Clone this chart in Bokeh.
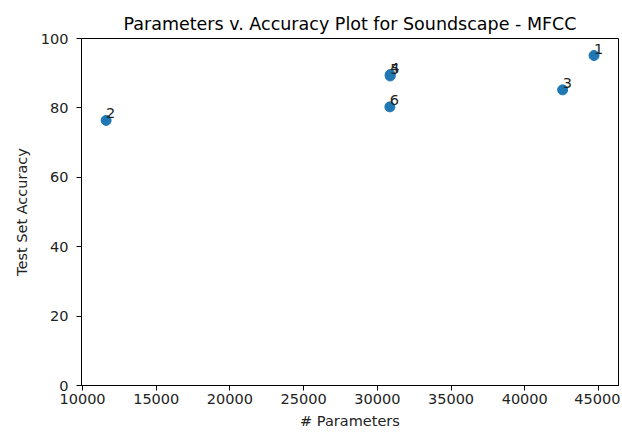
from bokeh.plotting import figure
from bokeh.models import ColumnDataSource, FixedTicker, Range1d
from bokeh.embed import file_html
from bokeh.resources import INLINE
from bokeh.core.properties import value

labels = ["1", "2", "3", "4", "5", "6"]
params = [44700, 11600, 42570, 30870, 30870, 30850]
accuracy = [95.1, 76.4, 85.2, 89.6, 89.2, 80.3]

x_ticks = [10000, 15000, 20000, 25000, 30000, 35000, 40000, 45000]
y_ticks = [0, 20, 40, 60, 80, 100]

src = ColumnDataSource(dict(x=params, y=accuracy, label=labels))

FONT = "DejaVu Sans"

p = figure(
    frame_width=537, frame_height=347,
    min_border_left=81, min_border_right=2, min_border_top=38, min_border_bottom=48,
    output_backend="svg", toolbar_location=None,
    x_range=Range1d(9930, 46360), y_range=Range1d(0, 100),
    title="Parameters v. Accuracy Plot for Soundscape - MFCC",
)
p.title.align = "center"
p.title.text_font = FONT
p.title.text_font_size = "17.5px"
p.title.text_font_style = "normal"
p.title.text_color = "black"

p.outline_line_color = "black"
p.outline_line_width = 1
p.outline_line_alpha = 1
p.xgrid.visible = False
p.ygrid.visible = False

for ax, ticks in ((p.xaxis, x_ticks), (p.yaxis, y_ticks)):
    ax.ticker = FixedTicker(ticks=ticks)
    ax.minor_tick_line_color = None
    ax.major_tick_in = 0
    ax.major_tick_out = 5
    ax.major_tick_line_color = "black"
    ax.axis_line_color = "black"
    ax.major_label_text_font = FONT
    ax.major_label_text_font_size = "14.5px"
    ax.major_label_text_color = "#222222"
    ax.axis_label_text_font = FONT
    ax.axis_label_text_font_size = "14.5px"
    ax.axis_label_text_font_style = "normal"
    ax.axis_label_text_color = "#222222"

p.xaxis.major_label_standoff = 3
p.xaxis.axis_label_standoff = 6
p.yaxis.major_label_standoff = 8
p.yaxis.axis_label_standoff = 8

p.xaxis.axis_label = "# Parameters"
p.yaxis.axis_label = "Test Set Accuracy"

p.scatter("x", "y", source=src, size=10, color="#1f77b4", line_color="#1f77b4")
p.text("x", "y", text="label", source=src, text_font=value(FONT),
       text_font_size="14.5px", text_color="#222222",
       text_align="left", text_baseline="bottom", y_offset=-2, x_offset=0)

open("out.html", "w").write(file_html(p, INLINE))
